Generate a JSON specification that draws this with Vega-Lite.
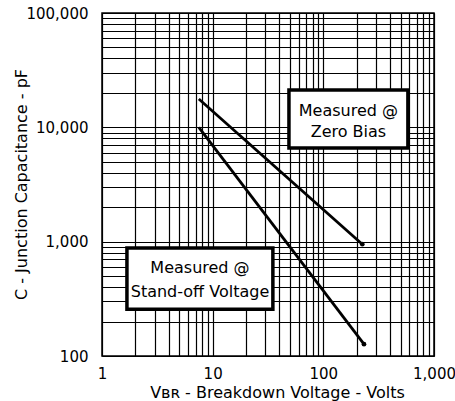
{
  "$schema": "https://vega.github.io/schema/vega-lite/v6.json",
  "width": 332,
  "height": 343,
  "autosize": {"type": "none"},
  "padding": {"left": 102, "top": 13, "right": 21, "bottom": 45},
  "background": "white",
  "config": {"view": {"stroke": "#000", "strokeWidth": 1.5}, "font": "DejaVu Sans"},
  "datasets": {
    "curves": [
      {"series": "Zero Bias", "v": 7.5, "c": 17700},
      {"series": "Zero Bias", "v": 225, "c": 950},
      {"series": "Stand-off", "v": 7.5, "c": 10000},
      {"series": "Stand-off", "v": 233, "c": 127}
    ],
    "boxes": [
      {"x1": 48.9, "x2": 581, "y1": 21200, "y2": 6590},
      {"x1": 1.68, "x2": 35, "y1": 879, "y2": 257}
    ],
    "labels": [
      {"v": 168.5, "c": 12560, "text": "Measured @"},
      {"v": 168.5, "c": 8230, "text": "Zero Bias"},
      {"v": 7.68, "c": 531, "text": "Measured @"},
      {"v": 7.68, "c": 327, "text": "Stand-off Voltage"}
    ]
  },
  "layer": [
    {
      "data": {"name": "curves"},
      "mark": {"type": "line", "color": "#000", "strokeWidth": 2.8},
      "encoding": {
        "x": {
          "field": "v", "type": "quantitative",
          "scale": {"type": "log", "domain": [1, 1000], "nice": false},
          "axis": {
            "values": [1,2,3,4,5,6,7,8,9,10,20,30,40,50,60,70,80,90,100,200,300,400,500,600,700,800,900,1000],
            "grid": true, "gridColor": "#000", "gridWidth": 1.2, "gridOpacity": 1,
            "domain": false, "ticks": false, "tickSize": 0,
            "labelExpr": "indexof([1,10,100,1000], datum.value) >= 0 ? format(datum.value, ',') : ''",
            "labelFont": "DejaVu Sans", "labelFontSize": 15, "labelColor": "#000",
            "labelPadding": 22, "labelBaseline": "alphabetic", "labelOverlap": false, "labelFlush": false,
            "title": "Vʙʀ - Breakdown Voltage - Volts",
            "titleFont": "DejaVu Sans", "titleFontSize": 16, "titleFontWeight": "normal", "titleColor": "#000",
            "titleX": 175, "titleY": 41, "titleBaseline": "alphabetic", "titleAlign": "center"
          }
        },
        "y": {
          "field": "c", "type": "quantitative",
          "scale": {"type": "log", "domain": [100, 100000], "nice": false},
          "axis": {
            "values": [100,200,300,400,500,600,700,800,900,1000,2000,3000,4000,5000,6000,7000,8000,9000,10000,20000,30000,40000,50000,60000,70000,80000,90000,100000],
            "grid": true, "gridColor": "#000", "gridWidth": 1.2, "gridOpacity": 1,
            "domain": false, "ticks": false, "tickSize": 0,
            "labelExpr": "indexof([100,1000,10000,100000], datum.value) >= 0 ? format(datum.value, ',') : ''",
            "labelFont": "DejaVu Sans", "labelFontSize": 15, "labelColor": "#000",
            "labelPadding": 14, "labelBaseline": "middle", "labelOverlap": false, "labelFlush": false,
            "title": "C - Junction Capacitance - pF",
            "titleFont": "DejaVu Sans", "titleFontSize": 16, "titleFontWeight": "normal", "titleColor": "#000",
            "titleX": -76, "titleY": 171, "titleAngle": 270, "titleBaseline": "alphabetic", "titleAlign": "center"
          }
        },
        "detail": {"field": "series"}
      }
    },
    {
      "data": {"name": "curves"},
      "transform": [{"filter": "datum.v > 100"}],
      "mark": {"type": "point", "filled": true, "color": "#000", "size": 22, "opacity": 1},
      "encoding": {
        "x": {"field": "v", "type": "quantitative"},
        "y": {"field": "c", "type": "quantitative"}
      }
    },
    {
      "data": {"name": "boxes"},
      "mark": {"type": "rect", "fill": "white", "stroke": "#000", "strokeWidth": 3.5},
      "encoding": {
        "x": {"field": "x1", "type": "quantitative"},
        "x2": {"field": "x2"},
        "y": {"field": "y1", "type": "quantitative"},
        "y2": {"field": "y2"}
      }
    },
    {
      "data": {"name": "labels"},
      "mark": {"type": "text", "font": "DejaVu Sans", "fontSize": 16, "color": "#000", "align": "center", "baseline": "alphabetic"},
      "encoding": {
        "x": {"field": "v", "type": "quantitative"},
        "y": {"field": "c", "type": "quantitative"},
        "text": {"field": "text"}
      }
    }
  ]
}
